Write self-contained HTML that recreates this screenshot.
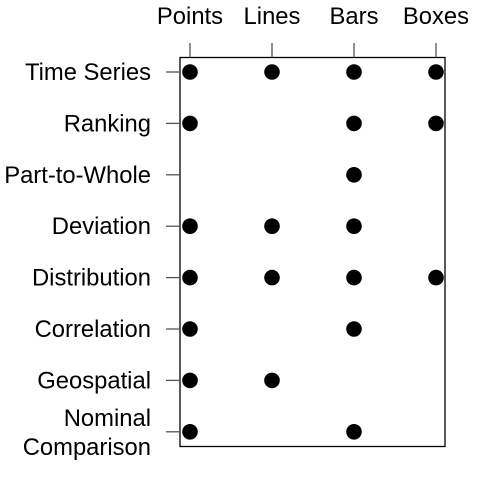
<!DOCTYPE html>
<html><head><style>body{margin:0;background:#fff}svg{display:block}text{font-family:"Liberation Sans",sans-serif;font-size:23.8px;fill:#000}</style></head>
<body>
<svg id="chart" width="504" height="504" viewBox="0 0 504 504" xmlns="http://www.w3.org/2000/svg">
<rect x="180" y="57.5" width="265" height="389" fill="none" stroke="#000" stroke-width="1.3"/>
<g id="g"></g>
</svg>
<script>
const columns = ["Points","Lines","Bars","Boxes"];
const rows = ["Time Series","Ranking","Part-to-Whole","Deviation","Distribution","Correlation","Geospatial","Nominal Comparison"];
const matrix = [
 [1,1,1,1],
 [1,0,1,1],
 [0,0,1,0],
 [1,1,1,0],
 [1,1,1,1],
 [1,0,1,0],
 [1,1,0,0],
 [1,0,1,0]
];
const NS="http://www.w3.org/2000/svg", g=document.getElementById('g');
const x=i=>190+i*82, y=j=>72+j*51.4;
function mk(t,a){const e=document.createElementNS(NS,t);for(const k in a)e.setAttribute(k,a[k]);g.appendChild(e);return e;}
columns.forEach((c,i)=>{
 const t=mk('line',{x1:x(i),x2:x(i),y1:43,y2:57.5,stroke:'#555','stroke-width':1.3});
 
 
 const l=mk('text',{x:x(i),y:24,'text-anchor':'middle'});l.textContent=c;
 
 
});
rows.forEach((r,j)=>{
 const t=mk('line',{x1:166,x2:180,y1:y(j),y2:y(j),stroke:'#555','stroke-width':1.3});
 
 
 const l=mk('text',{x:151,y:y(j)+8,'text-anchor':'end'});
 
 
 if(r==="Nominal Comparison"){
  l.setAttribute('y',y(j)-6);
  l.innerHTML='<tspan x="151">Nominal</tspan><tspan x="151" dy="29">Comparison</tspan>';
 } else l.textContent=r;
 matrix[j].forEach((v,i)=>{ if(v){
  const d=mk('circle',{cx:x(i),cy:y(j),r:7.8,fill:'#000'});
  
  
 }});
});
</script>
</body></html>
